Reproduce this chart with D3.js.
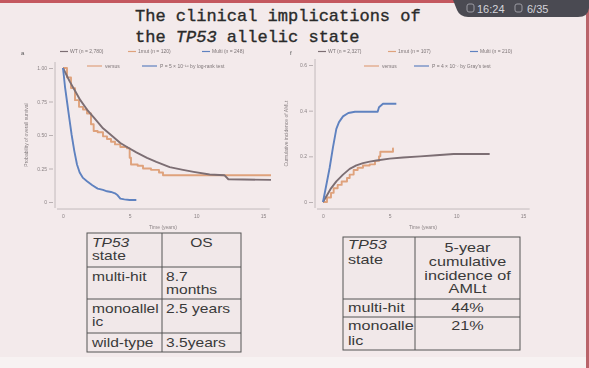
<!DOCTYPE html>
<html>
<head>
<meta charset="utf-8">
<script src="https://cdn.jsdelivr.net/npm/d3@7"></script>
<style>
  body { margin: 0; background: #f3eaeb; }
  svg { display: block; }
  .tick text { fill: #8a8284; font-family: "Liberation Sans", Arial, sans-serif; }
  .tick line { stroke: #b9b1b3; }
</style>
</head>
<body>
<svg id="chart" width="589" height="368"></svg>
<script>
// survival curves, [years, probability]
const wtOS = [[0,1],[0.5,0.9],[0.9,0.83],[1.3,0.76],[1.8,0.69],[2.4,0.62],[3.0,0.55],[3.6,0.5],[4.3,0.44],[4.8,0.41],[5.5,0.37],[6.3,0.33],[7.0,0.3],[8.0,0.26],[9.0,0.24],[9.8,0.225],[11.0,0.205],[12.1,0.2],[12.4,0.17],[15.6,0.165]];
const monoOS = [[0,1],[0.3,0.93],[0.6,0.85],[0.9,0.76],[1.2,0.71],[1.5,0.69],[1.8,0.66],[2.1,0.58],[2.3,0.53],[2.6,0.52],[3.0,0.49],[3.3,0.47],[3.6,0.45],[3.9,0.43],[4.3,0.41],[4.8,0.4],[5.0,0.33],[5.1,0.28],[5.6,0.27],[6.0,0.25],[6.6,0.24],[7.2,0.22],[7.5,0.2],[15.6,0.2]];
const multiOS = [[0,1],[0.15,0.86],[0.3,0.75],[0.45,0.64],[0.65,0.5],[0.85,0.38],[1.05,0.28],[1.25,0.22],[1.5,0.18],[1.8,0.155],[2.2,0.125],[2.6,0.1],[3.0,0.09],[3.3,0.08],[3.6,0.075],[3.9,0.065],[4.1,0.05],[4.3,0.025],[4.6,0.02],[5.0,0.015],[5.5,0.015]];

// cumulative incidence of AMLt, [years, fraction]
const wtAML = [[0,0],[0.3,0.03],[0.6,0.06],[1.0,0.09],[1.5,0.12],[2.0,0.145],[2.5,0.16],[3.0,0.17],[3.5,0.177],[4.0,0.182],[5.0,0.19],[6.0,0.195],[7.3,0.2],[8.5,0.205],[9.8,0.21],[12.5,0.21]];
const monoAML = [[0,0],[0.3,0.02],[0.6,0.04],[0.8,0.06],[1.1,0.075],[1.4,0.09],[1.8,0.105],[2.0,0.12],[2.3,0.14],[2.6,0.15],[3.0,0.16],[3.5,0.165],[3.9,0.18],[4.2,0.2],[4.3,0.22],[5.25,0.235],[5.3,0.235]];
const multiAML = [[0,0],[0.3,0.09],[0.5,0.15],[0.75,0.24],[1.0,0.32],[1.2,0.35],[1.5,0.375],[1.9,0.39],[2.4,0.395],[4.1,0.395],[4.2,0.415],[4.5,0.43],[5.5,0.43]];

const xTicks = [0, 5, 10, 15];
const osTicks = [0, 0.25, 0.5, 0.75, 1];
const amlTicks = [0, 0.2, 0.4, 0.6];

const osLegend = ['WT (n = 2,780)', '1mut (n = 120)', 'Multi (n = 248)'];
const amlLegend = ['WT (n = 2,327)', '1mut (n = 107)', 'Multi (n = 210)'];
const osTest = 'P = 5 × 10⁻¹⁶ by log-rank test';
const amlTest = 'P = 4 × 10⁻⁷ by Gray\'s test';

const osStates = [['multi-hit'], ['monoallel', 'ic'], ['wild-type']];
const osValues = [['8.7', 'months'], ['2.5 years'], ['3.5years']];
const amlStates = [['multi-hit'], ['monoalle', 'lic']];
const amlValues = [['44%'], ['21%']];

const colors = { wt: '#7c6e73', mono: '#dfa27c', multi: '#5f82c0' };
const sans = '"Liberation Sans", Arial, sans-serif';

const svg = d3.select('#chart');

// soft focus, the reference is a photo of a screen
const defs = svg.append('defs');
defs.append('filter').attr('id', 'soft')
  .append('feGaussianBlur').attr('stdDeviation', 0.4);

// slide chrome
svg.append('rect').attr('x', 0).attr('y', 357).attr('width', 589).attr('height', 11).attr('fill', '#f7f2f2');
svg.append('rect').attr('x', 0).attr('y', 0).attr('width', 589).attr('height', 3).attr('fill', '#c4585f');
svg.append('rect').attr('x', 586).attr('y', 0).attr('width', 3).attr('height', 368).attr('fill', '#b9646a');
svg.append('path')
  .attr('d', 'M453,0 L589,0 L589,8 Q588,17 578,17 L468,17 Q460,17 457,10 Z')
  .attr('fill', '#4a4a52');
svg.append('rect').attr('x', 467).attr('y', 4).attr('width', 7).attr('height', 8).attr('rx', 2)
  .attr('fill', 'none').attr('stroke', '#9a9aa2');
svg.append('rect').attr('x', 515).attr('y', 4).attr('width', 7).attr('height', 8).attr('rx', 2)
  .attr('fill', 'none').attr('stroke', '#9a9aa2');
svg.append('text').attr('x', 477).attr('y', 13).attr('font-family', sans).attr('font-size', 11)
  .attr('fill', '#d4d4da').text('16:24');
svg.append('text').attr('x', 527).attr('y', 13).attr('font-family', sans).attr('font-size', 11)
  .attr('fill', '#d4d4da').text('6/35');

// title
const mono = '"Courier New", "Liberation Mono", monospace';
svg.append('text').attr('x', 135).attr('y', 21).attr('font-family', mono).attr('font-size', 17)
  .attr('fill', '#2a2a2a').attr('stroke', '#2a2a2a').attr('stroke-width', 0.35)
  .text('The clinical implications of');
const t2 = svg.append('text').attr('x', 135).attr('y', 42).attr('font-family', mono).attr('font-size', 17)
  .attr('fill', '#2a2a2a').attr('stroke', '#2a2a2a').attr('stroke-width', 0.35);
t2.append('tspan').text('the ');
t2.append('tspan').attr('font-style', 'italic').text('TP53');
t2.append('tspan').text(' allelic state');

function drawPanel(opt) {
  const x = d3.scaleLinear().domain([0, 15]).range([opt.x0, opt.x0 + 200]);
  const y = d3.scaleLinear().domain(opt.yDomain).range([202, opt.yTop]);
  const g = svg.append('g').attr('filter', 'url(#soft)');

  g.append('text').attr('x', opt.letterX).attr('y', 55).attr('font-family', sans)
    .attr('font-size', 6).attr('fill', '#555').text(opt.letter);

  // axes
  g.append('line').attr('x1', opt.x0 - 8).attr('x2', opt.x0 - 8).attr('y1', opt.yTop - 6).attr('y2', 208)
    .attr('stroke', '#c2babc');
  g.append('line').attr('x1', opt.x0 - 6).attr('x2', x(15.5)).attr('y1', 209).attr('y2', 209)
    .attr('stroke', '#c2babc');

  const ya = g.append('g').attr('transform', `translate(${opt.x0 - 10},0)`)
    .call(d3.axisLeft(y).tickValues(opt.yTicks).tickFormat(opt.yFormat).tickSize(4).tickPadding(2));
  ya.select('.domain').remove();
  ya.selectAll('text').attr('font-size', 5);

  const xa = g.append('g').attr('transform', 'translate(0,211)')
    .call(d3.axisBottom(x).tickValues(xTicks).tickSize(0).tickPadding(3));
  xa.select('.domain').remove();
  xa.selectAll('text').attr('font-size', 5);

  g.append('text').attr('x', x(7.5)).attr('y', 229).attr('text-anchor', 'middle')
    .attr('font-family', sans).attr('font-size', 5).attr('fill', '#8a8284').text('Time (years)');
  g.append('text').attr('transform', `translate(${opt.x0 - 35},${(202 + opt.yTop) / 2}) rotate(-90)`)
    .attr('text-anchor', 'middle').attr('font-family', sans).attr('font-size', 5)
    .attr('fill', '#8a8284').text(opt.yTitle);

  // legend
  const keys = ['wt', 'mono', 'multi'];
  opt.legend.forEach((label, i) => {
    const lx = opt.legendX[i];
    g.append('line').attr('x1', lx).attr('x2', lx + 8).attr('y1', 51.5).attr('y2', 51.5)
      .attr('stroke', colors[keys[i]]).attr('stroke-width', 1.2);
    g.append('text').attr('x', lx + 10).attr('y', 53.3).attr('font-family', sans).attr('font-size', 5)
      .attr('fill', '#7d7577').text(label);
  });
  g.append('line').attr('x1', opt.row2X[0]).attr('x2', opt.row2X[0] + 15).attr('y1', 66).attr('y2', 66)
    .attr('stroke', colors.mono).attr('stroke-width', 1.2);
  g.append('text').attr('x', opt.row2X[0] + 18).attr('y', 67.8).attr('font-family', sans).attr('font-size', 5)
    .attr('fill', '#7d7577').text('versus');
  g.append('line').attr('x1', opt.row2X[1]).attr('x2', opt.row2X[1] + 15).attr('y1', 66).attr('y2', 66)
    .attr('stroke', colors.multi).attr('stroke-width', 1.2);
  g.append('text').attr('x', opt.row2X[1] + 18).attr('y', 67.8).attr('font-family', sans).attr('font-size', 5)
    .attr('fill', '#7d7577').text(opt.test);

  // curves
  const smooth = d3.line().x(d => x(d[0])).y(d => y(d[1]));
  const step = d3.line().x(d => x(d[0])).y(d => y(d[1])).curve(d3.curveStepAfter);
  const series = [
    { data: opt.mono, color: colors.mono, gen: step },
    { data: opt.wt, color: colors.wt, gen: smooth },
    { data: opt.multi, color: colors.multi, gen: smooth }
  ];
  g.selectAll('path.curve')
    .data(series)
    .enter()
    .append('path')
    .attr('class', 'curve')
    .attr('d', d => d.gen(d.data))
    .attr('fill', 'none')
    .attr('stroke', d => d.color)
    .attr('stroke-width', 1.9)
    .attr('stroke-linejoin', 'round');
}

drawPanel({
  x0: 63, yDomain: [0, 1], yTop: 68, yTicks: osTicks,
  yFormat: d => d === 0 ? '0' : d3.format('.2f')(d),
  yTitle: 'Probability of overall survival', letter: 'a', letterX: 21,
  legend: osLegend, legendX: [60, 128, 202], row2X: [87, 142], test: osTest,
  wt: wtOS, mono: monoOS, multi: multiOS
});

drawPanel({
  x0: 323, yDomain: [0, 0.6], yTop: 65, yTicks: amlTicks,
  yFormat: d => d === 0 ? '0' : d3.format('.1f')(d),
  yTitle: 'Cumulative incidence of AMLt', letter: 'f', letterX: 290,
  legend: amlLegend, legendX: [318, 388, 470], row2X: [364, 414], test: amlTest,
  wt: wtAML, mono: monoAML, multi: multiAML
});

// tables
function cellText(g, x, y, lines, opt) {
  lines.forEach((s, i) => {
    g.append('text')
      .attr('transform', `translate(${x},${y + i * (opt.lh || 13)}) scale(${opt.sx},1)`)
      .attr('text-anchor', opt.anchor || 'start')
      .attr('font-family', sans).attr('font-size', 12)
      .attr('font-style', opt.italic ? 'italic' : 'normal')
      .attr('fill', '#3a3a3a').text(s);
  });
}

function drawTable(opt) {
  const g = svg.append('g');
  const [c0, c1, c2] = opt.cols;
  const rows = opt.rows;
  g.append('rect').attr('x', c0).attr('y', rows[0]).attr('width', c2 - c0)
    .attr('height', rows[rows.length - 1] - rows[0]).attr('fill', '#f1e8e9')
    .attr('stroke', '#555').attr('stroke-width', 1);
  g.append('line').attr('x1', c1).attr('x2', c1).attr('y1', rows[0]).attr('y2', rows[rows.length - 1])
    .attr('stroke', '#555');
  rows.slice(1, -1).forEach(r => {
    g.append('line').attr('x1', c0).attr('x2', c2).attr('y1', r).attr('y2', r).attr('stroke', '#555');
  });
  cellText(g, c0 + 5, opt.headY[0], ['TP53'], { sx: opt.sx, italic: true });
  cellText(g, c0 + 5, opt.headY[1], ['state'], { sx: opt.sx });
  cellText(g, (c1 + c2) / 2, opt.headY[0] + opt.headShift, opt.header, { sx: opt.sx, anchor: 'middle', lh: opt.headLh });
  opt.states.forEach((lines, i) => {
    cellText(g, c0 + 5, opt.bodyY[i], lines, { sx: opt.sx, lh: opt.lh });
    cellText(g, opt.valueAnchor === 'middle' ? (c1 + c2) / 2 : c1 + 4, opt.bodyY[i], opt.values[i],
      { sx: opt.sx, lh: opt.lh, anchor: opt.valueAnchor });
  });
}

drawTable({
  cols: [87, 162, 241], rows: [233, 267, 299, 333, 352], sx: 1.3,
  headY: [247, 260], headShift: 0, header: ['OS'], headLh: 13,
  states: osStates, values: osValues, bodyY: [281, 313, 347], lh: 12.5, valueAnchor: 'start'
});

drawTable({
  cols: [343, 415, 520], rows: [237, 299, 317, 350], sx: 1.35,
  headY: [249, 264], headShift: 3, header: ['5-year', 'cumulative', 'incidence of', 'AMLt'], headLh: 13.8,
  states: amlStates, values: amlValues, bodyY: [312, 330], lh: 15, valueAnchor: 'middle'
});
</script>
</body>
</html>
